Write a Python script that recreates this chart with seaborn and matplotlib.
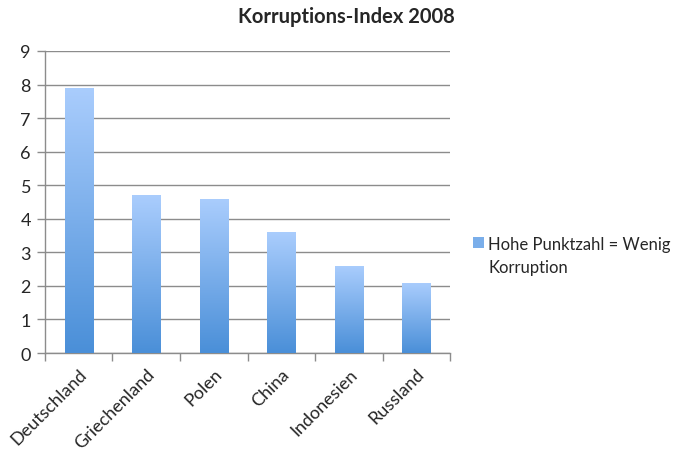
import matplotlib
matplotlib.use("Agg")
import matplotlib.pyplot as plt
import numpy as np
import pandas as pd
import seaborn as sns
from matplotlib.colors import LinearSegmentedColormap
from matplotlib.patches import Patch, Rectangle
from matplotlib.legend_handler import HandlerPatch
from matplotlib.ticker import FixedLocator, NullFormatter

countries = ["Deutschland", "Griechenland", "Polen", "China", "Indonesien", "Russland"]
scores = [7.9, 4.7, 4.6, 3.6, 2.6, 2.1]
series_name = "Hohe Punktzahl = Wenig\nKorruption"
title = "Korruptions-Index 2008"

sns.set_theme(style="white")
plt.rcParams["font.family"] = ["Lato", "DejaVu Sans"]

df = pd.DataFrame({"Land": countries, "Punkte": scores})

fig = plt.figure(figsize=(6.8, 4.6), dpi=100)
ax = fig.add_axes([0.066, 0.2304, 0.596, 0.6566])

sns.barplot(data=df, x="Land", y="Punkte", ax=ax, color="#7aaeea", width=0.415,
            saturation=1, zorder=3)

cmap = LinearSegmentedColormap.from_list("g", ["#4a8fd8", "#aacdfd"])
grad = np.linspace(0, 1, 256).reshape(-1, 1)
for p in ax.patches:
    x0, y0 = p.get_x(), p.get_y()
    w, h = p.get_width(), p.get_height()
    im = ax.imshow(grad, cmap=cmap, origin="lower", aspect="auto",
                   extent=[x0, x0 + w, y0, y0 + h], zorder=3)
    im.set_clip_path(p)
    p.set_facecolor("none")
    p.set_edgecolor("none")

ax.set_xlim(-0.5, 5.5)
ax.set_ylim(0, 9)
ax.set_yticks(range(10))
ax.yaxis.grid(True, color="#8c8c8c", linewidth=1.0, zorder=0)
ax.set_axisbelow(True)
for s in ["top", "right"]:
    ax.spines[s].set_visible(False)
for s in ["left", "bottom"]:
    ax.spines[s].set_color("#8c8c8c")
    ax.spines[s].set_linewidth(1.0)

ax.set_xlabel("")
ax.set_ylabel("")
ax.set_xticks(range(len(countries)))
ax.set_xticklabels(countries, rotation=45, ha="right", rotation_mode="anchor",
                   fontsize=13)
ax.tick_params(axis="x", which="major", length=0, pad=9)
ax.xaxis.set_minor_locator(FixedLocator(np.arange(-0.5, 6.0, 1.0)))
ax.xaxis.set_minor_formatter(NullFormatter())
ax.tick_params(axis="x", which="minor", length=6, color="#8c8c8c", width=1, bottom=True)
ax.tick_params(axis="y", length=6, color="#8c8c8c", width=1, left=True, labelsize=13, pad=4)

fig.text(0.51, 0.962, title, ha="center", va="center", fontsize=14.5, fontweight="bold")


class TopHandler(HandlerPatch):
    def create_artists(self, legend, orig_handle, xdescent, ydescent, width,
                       height, fontsize, trans):
        shift = 0.8 * fontsize
        r = Rectangle((-xdescent, -ydescent + shift), width, height,
                      facecolor=orig_handle.get_facecolor(), edgecolor="none",
                      transform=trans)
        return [r]


handle = Patch(facecolor="#7aaeea", edgecolor="none")
leg = fig.legend([handle], [series_name], loc="center left", bbox_to_anchor=(0.696, 0.443),
                 frameon=False, fontsize=12, handlelength=0.65, handleheight=0.65,
                 handletextpad=0.25, borderaxespad=0, borderpad=0,
                 handler_map={Patch: TopHandler()})
for t in leg.get_texts():
    t.set_linespacing(1.55)

fig.savefig("out.png", dpi=100)
